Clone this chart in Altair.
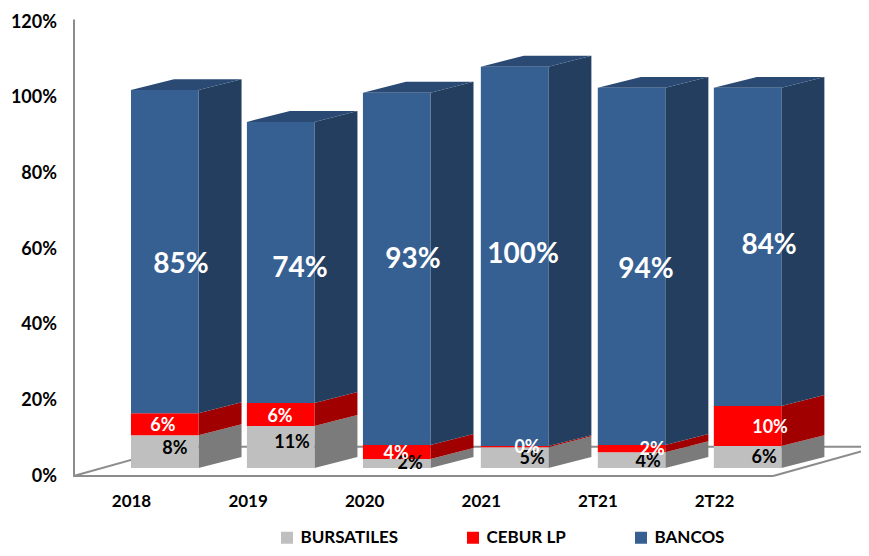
import altair as alt
import pandas as pd

categories = ["2018", "2019", "2020", "2021", "2T21", "2T22"]
bursatiles = [8.7, 11.1, 2.4, 5.5, 4.2, 5.8]
cebur = [5.8, 6.1, 3.7, 0.3, 1.9, 10.6]
bancos = [85.4, 74.3, 93.1, 100.3, 94.4, 84.1]
bars_left = [0.0, 0.994, 1.989, 3.0, 4.003, 4.998]

bancos_text = ["85%", "74%", "93%", "100%", "94%", "84%"]
cebur_text = ["6%", "6%", "4%", "0%", "2%", "10%"]
bursatiles_text = ["8%", "11%", "2%", "5%", "4%", "6%"]

bancos_lx = [0.429, 1.449, 2.419, 3.362, 4.417, 5.472]
bancos_ly = [55.8, 54.7, 57.1, 58.4, 54.5, 60.8]
cebur_lx = [0.274, 1.278, 2.273, 3.396, 4.469, 5.480]
cebur_ly = [13.2, 15.7, 5.9, 7.4, 6.9, 12.8]
bursatiles_lx = [0.377, 1.381, 2.393, 3.439, 4.434, 5.429]
bursatiles_ly = [7.2, 8.6, 3.2, 4.6, 3.8, 4.8]

series_names = ["BURSATILES", "CEBUR LP", "BANCOS"]
front_colors = ["#BFBFBF", "#FF0000", "#376092"]
side_colors = ["#7B7B7B", "#A00000", "#233E5E"]
top_color = "#2A4A73"
frame_color = "#8C8C8C"
font = "Lato"

BAR_W = 0.579
DEPTH_X = 0.369
DEPTH_Y = 2.9
FLOOR = 2.1
X_DOMAIN = [-0.493, 6.26]
Y_DOMAIN = [0, 120.8]

x_scale = alt.Scale(domain=X_DOMAIN, nice=False, zero=False)
y_scale = alt.Scale(domain=Y_DOMAIN, nice=False, zero=False)

front, side, top = [], [], []
for i, cat in enumerate(categories):
    base = FLOOR
    left = bars_left[i]
    right = left + BAR_W
    for s, vals in zip(series_names, [bursatiles, cebur, bancos]):
        t = base + vals[i]
        front.append(dict(series=s, x=left, x2=right, y=base, y2=t))
        side.append(dict(series=s, bar=cat, x=right, y=base, y2=t))
        side.append(dict(series=s, bar=cat, x=right + DEPTH_X, y=base + DEPTH_Y, y2=t + DEPTH_Y))
        base = t
    top.append(dict(bar=cat, y=base, x=left, x2=right))
    top.append(dict(bar=cat, y=base + DEPTH_Y, x=left + DEPTH_X, x2=right + DEPTH_X))

front_df, side_df, top_df = pd.DataFrame(front), pd.DataFrame(side), pd.DataFrame(top)

floor_df = pd.DataFrame([
    dict(seg="left", x=-0.493, y=0.0), dict(seg="left", x=0.403, y=7.7),
    dict(seg="back", x=0.403, y=7.7), dict(seg="back", x=6.26, y=7.7),
    dict(seg="front", x=-0.493, y=0.0), dict(seg="front", x=5.506, y=0.0),
    dict(seg="right", x=5.506, y=0.0), dict(seg="right", x=6.26, y=6.5),
])

x_enc = alt.X(
    "x:Q", scale=x_scale, title=None,
    axis=alt.Axis(
        values=list(range(len(categories))),
        labelExpr="%s[datum.value]" % str(categories),
        domain=False, ticks=False, grid=False,
        labelFont=font, labelFontSize=17, labelFontWeight="bold", labelColor="#000000",
        labelPadding=17, labelOverlap=False, labelFlush=False,
    ),
)
y_enc = alt.Y(
    "y:Q", scale=y_scale, title=None,
    axis=alt.Axis(
        values=[0, 20, 40, 60, 80, 100, 120],
        labelExpr="datum.value + '%'",
        domain=True, domainColor=frame_color, domainWidth=2,
        ticks=False, grid=False,
        labelFont=font, labelFontSize=18, labelFontWeight="bold", labelColor="#000000",
        labelPadding=17, labelOverlap=False, labelFlush=False,
    ),
)

floor = alt.Chart(floor_df).mark_line(color=frame_color, strokeWidth=2).encode(
    x=x_enc, y=y_enc, detail="seg:N", order=alt.Order("x:Q")
)

layers = [floor]

for s, c in zip(series_names, side_colors):
    layers.append(
        alt.Chart(side_df[side_df.series == s]).mark_area(color=c, opacity=1).encode(
            x=alt.X("x:Q", scale=x_scale),
            y=alt.Y("y:Q", scale=y_scale),
            y2="y2:Q",
            detail="bar:N",
        )
    )

layers.append(
    alt.Chart(top_df).mark_area(color=top_color, orient="horizontal", opacity=1).encode(
        y=alt.Y("y:Q", scale=y_scale),
        x=alt.X("x:Q", scale=x_scale),
        x2="x2:Q",
        detail="bar:N",
    )
)

layers.append(
    alt.Chart(front_df).mark_rect().encode(
        x=alt.X("x:Q", scale=x_scale),
        x2="x2:Q",
        y=alt.Y("y:Q", scale=y_scale),
        y2="y2:Q",
        color=alt.Color(
            "series:N",
            scale=alt.Scale(domain=series_names, range=front_colors),
            legend=alt.Legend(
                title=None, orient="none", legendX=205, legendY=510,
                direction="horizontal", columns=3, columnPadding=66,
                symbolType="square", symbolSize=144, symbolStrokeWidth=0,
                labelFont=font, labelFontSize=17, labelFontWeight="bold",
                labelColor="#000000", labelOffset=5, padding=0,
            ),
        ),
    )
)


def labels(xs, ys, texts, color, size):
    df = pd.DataFrame({"x": xs, "y": ys, "t": texts})
    return alt.Chart(df).mark_text(
        font=font, fontWeight="bold", fontSize=size, color=color,
        align="center", baseline="middle",
    ).encode(
        x=alt.X("x:Q", scale=x_scale),
        y=alt.Y("y:Q", scale=y_scale),
        text="t:N",
    )


layers.append(labels(bursatiles_lx, bursatiles_ly, bursatiles_text, "#000000", 18))
layers.append(labels(cebur_lx, cebur_ly, cebur_text, "#FFFFFF", 18))
layers.append(labels(bancos_lx, bancos_ly, bancos_text, "#FFFFFF", 28))

chart = alt.layer(*layers).properties(
    width=787.5,
    height=457,
    autosize=alt.AutoSizeParams(type="none"),
    padding={"left": 65.5, "top": 11, "right": 0, "bottom": 70},
    background="#FFFFFF",
).configure_view(stroke=None)

chart.save("out.html", embed_options={"renderer": "svg", "actions": False})
